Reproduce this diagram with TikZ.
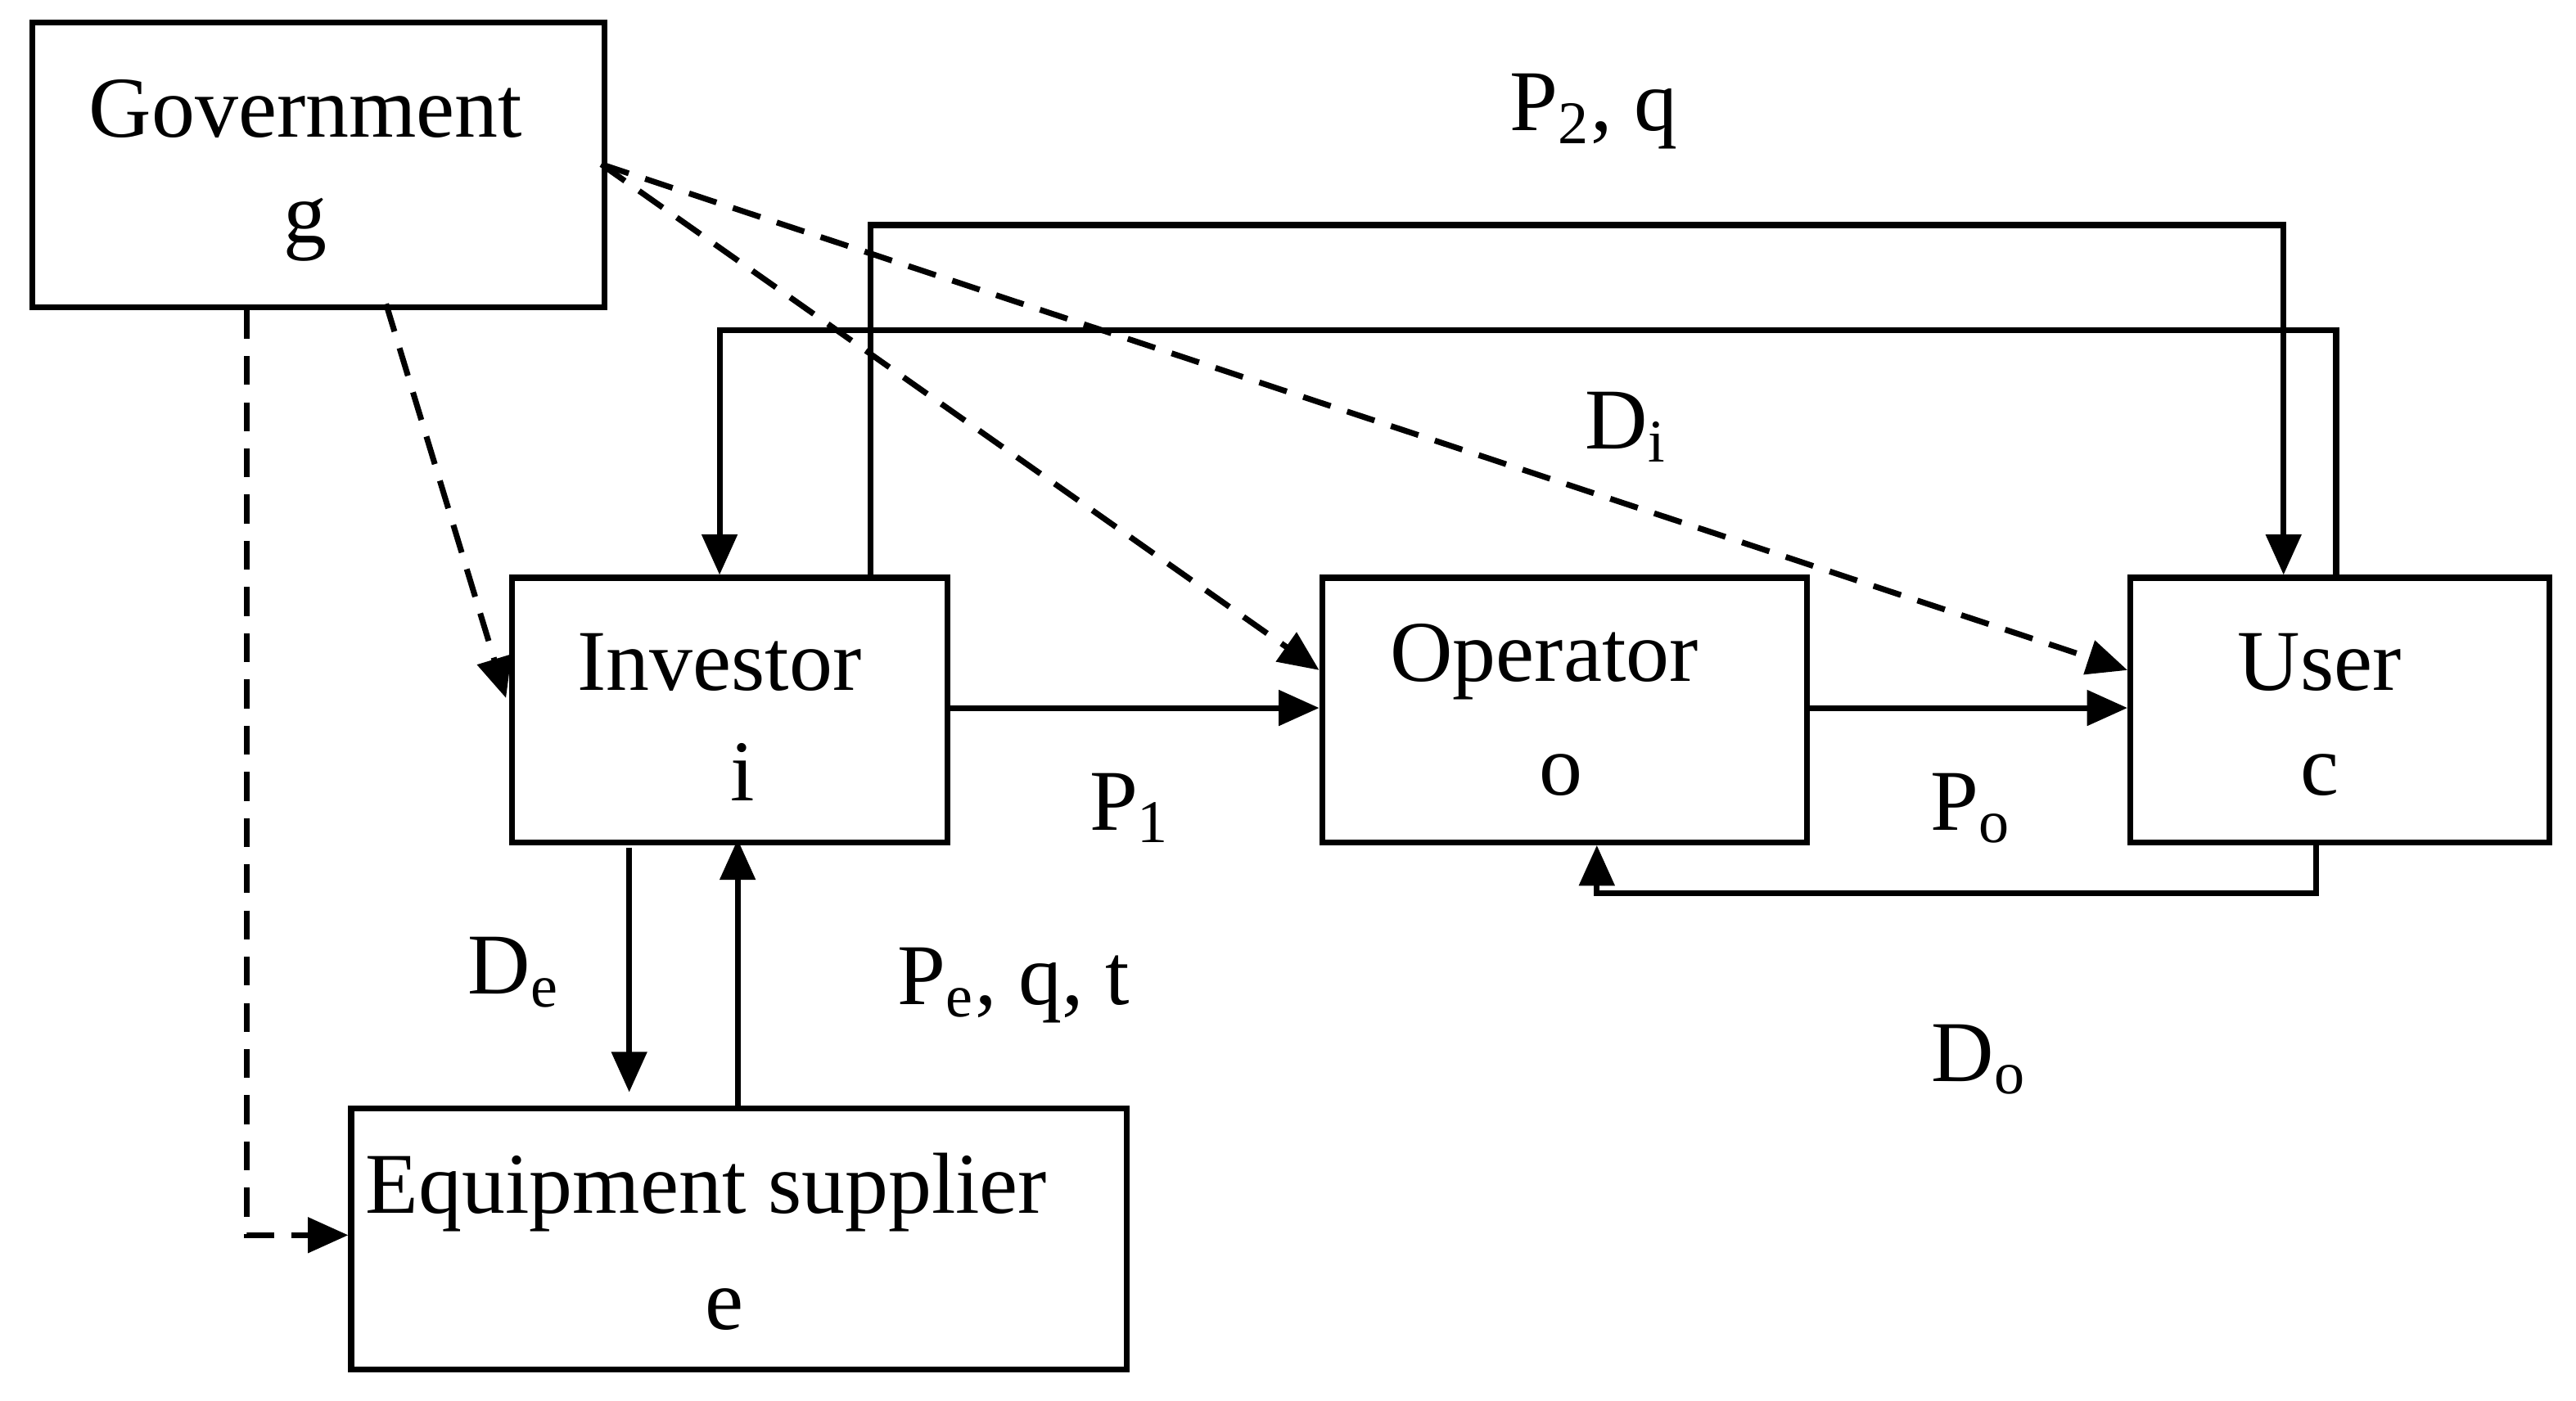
\documentclass[tikz,border=0pt]{standalone}
\usepackage{fontspec}
\setmainfont{Liberation Serif}
\usetikzlibrary{arrows.meta}
\begin{document}
\begin{tikzpicture}[x=0.01cm,y=-0.01cm,
  box/.style={draw,line width=1pt,inner sep=0,anchor=north west},
  lbl/.style={font=\fontsize{15}{18}\selectfont,inner sep=0},
  con/.style={line width=1pt,-{Triangle[length=7pt,width=6pt]}},
  dcon/.style={con,dash pattern=on 5pt off 3pt}]
\useasboundingbox (0,0) rectangle (1568,853);
\node[box,minimum width=3.48cm,minimum height=1.73cm] (gov) at (18,12) {};
\node[box,minimum width=2.65cm,minimum height=1.61cm] (inv) at (310,350) {};
\node[box,minimum width=2.95cm,minimum height=1.61cm] (op) at (803,350) {};
\node[box,minimum width=2.55cm,minimum height=1.61cm] (usr) at (1295,350) {};
\node[box,minimum width=4.72cm,minimum height=1.59cm] (eq) at (212,673) {};
\node[lbl] (t1) at (186,66) {Government};
\node[lbl] (t2) at (186,140) {g};
\node[lbl] (t3) at (438,403) {Investor};
\node[lbl] (t4) at (452,470) {i};
\node[lbl] (t5) at (940,403) {Operator};
\node[lbl] (t6) at (950,472) {o};
\node[lbl] (t7) at (1412,403) {User};
\node[lbl] (t8) at (1412,472) {c};
\node[lbl] (t9) at (430,726) {Equipment supplier};
\node[lbl] (t10) at (441,797) {e};
\node[lbl] (l1) at (970,68) {P\textsubscript{2}, q};
\node[lbl] (l2) at (990,260) {D\textsubscript{i}};
\node[lbl] (l3) at (688,492) {P\textsubscript{1}};
\node[lbl] (l4) at (1200,492) {P\textsubscript{o}};
\node[lbl] (l5) at (313,592) {D\textsubscript{e}};
\node[lbl] (l6) at (617,600) {P\textsubscript{e}, q, t};
\node[lbl] (l7) at (1205,645) {D\textsubscript{o}};
% solid
\draw[con] (inv.east |- 0,431) -- (op.west |- 0,431);
\draw[con] (op.east |- 0,431) -- (usr.west |- 0,431);
\draw[con] (usr.south -| 1410,0) -- (1410,544) -- (972,544) -- (op.south -| 972,0);
\draw[con] (inv.north -| 530,0) -- (530,137) -- (1390,137) -- (usr.north -| 1390,0);
\draw[con] (usr.north -| 1422,0) -- (1422,201) -- (438,201) -- (inv.north -| 438,0);
\draw[con] (383,516) -- (383,665);
\draw[con] (eq.north -| 449,0) -- (449,511);
% dashed
\draw[dcon] (366,100) -- (803,408);
\draw[dcon] (366,100) -- (1295,408);
\draw[dcon] (235,185) -- (308,425);
\draw[dcon] (gov.south -| 150,0) -- (150,752) -- (eq.west |- 0,752);
\end{tikzpicture}
\end{document}
